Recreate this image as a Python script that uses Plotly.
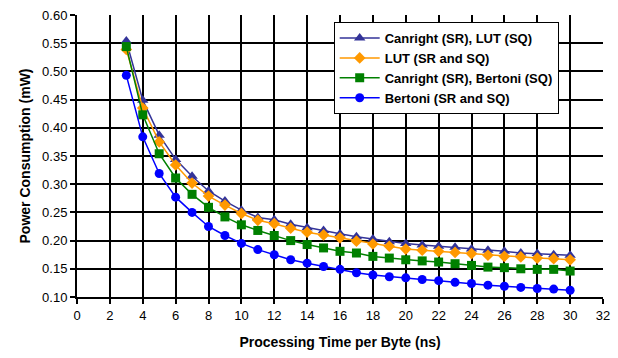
import plotly.graph_objects as go

# Processing time per byte (ns)
time_ns = list(range(3, 31))

# Power consumption (mW) for each S-box / squaring implementation
canright_lut = [0.554, 0.449, 0.387, 0.344, 0.314, 0.288, 0.270, 0.254, 0.241, 0.237,
                0.229, 0.223, 0.218, 0.212, 0.207, 0.203, 0.198, 0.195, 0.192, 0.190,
                0.188, 0.185, 0.183, 0.181, 0.178, 0.177, 0.175, 0.174]
lut_both = [0.539, 0.435, 0.375, 0.334, 0.302, 0.279, 0.263, 0.248, 0.236, 0.230,
            0.222, 0.215, 0.210, 0.205, 0.199, 0.194, 0.190, 0.185, 0.183, 0.181,
            0.179, 0.177, 0.174, 0.172, 0.171, 0.169, 0.168, 0.166]
canright_bertoni = [0.544, 0.423, 0.354, 0.311, 0.282, 0.259, 0.242, 0.228, 0.218, 0.209,
                    0.200, 0.193, 0.187, 0.181, 0.178, 0.172, 0.169, 0.166, 0.164, 0.162,
                    0.159, 0.156, 0.153, 0.152, 0.150, 0.149, 0.149, 0.146]
bertoni_both = [0.493, 0.384, 0.319, 0.277, 0.250, 0.225, 0.209, 0.195, 0.184, 0.175,
                0.166, 0.160, 0.154, 0.149, 0.143, 0.139, 0.136, 0.134, 0.131, 0.129,
                0.126, 0.124, 0.121, 0.119, 0.117, 0.115, 0.114, 0.112]

series = [
    ("Canright (SR), LUT (SQ)", canright_lut, "#333399", "triangle-up", 10),
    ("LUT (SR and SQ)", lut_both, "#FF9900", "diamond", 9),
    ("Canright (SR), Bertoni (SQ)", canright_bertoni, "#008000", "square", 9),
    ("Bertoni (SR and SQ)", bertoni_both, "#0000FF", "circle", 9),
]

fig = go.Figure()
for name, vals, color, symbol, size in series:
    fig.add_trace(go.Scatter(
        x=time_ns, y=vals, name=name, mode="lines+markers",
        line=dict(color=color, width=1.5),
        marker=dict(symbol=symbol, size=size, color=color),
    ))

font_family = "Liberation Sans, Arial, sans-serif"

fig.update_layout(
    width=618, height=358,
    margin=dict(l=77, r=8, t=12, b=61),
    paper_bgcolor="white", plot_bgcolor="white",
    font=dict(family=font_family, size=13, color="black"),
    showlegend=True,
    legend=dict(
        x=0.488, y=0.975, xanchor="left", yanchor="top",
        bgcolor="white", bordercolor="black", borderwidth=1,
        font=dict(family=font_family, size=13, color="black", weight="bold"),
        tracegroupgap=0, itemwidth=40,
    ),
    xaxis=dict(
        range=[0, 32], dtick=2, tick0=0,
        showgrid=True, gridcolor="black", gridwidth=2,
        showline=True, linecolor="black", linewidth=2,
        ticks="outside", ticklen=5, tickwidth=1.5, tickcolor="black",
        zeroline=False,
        title=dict(text="<b>Processing Time per Byte (ns)</b>", font=dict(size=14), standoff=16),
    ),
    yaxis=dict(
        range=[0.10, 0.60], dtick=0.05, tick0=0.10, tickformat=".2f",
        showgrid=True, gridcolor="black", gridwidth=2,
        showline=True, linecolor="black", linewidth=2,
        ticks="outside", ticklen=5, tickwidth=1.5, tickcolor="black",
        zeroline=False,
        title=dict(text="<b>Power Consumption (mW)</b>", font=dict(size=14), standoff=8),
    ),
)

fig.write_html("out.html")
